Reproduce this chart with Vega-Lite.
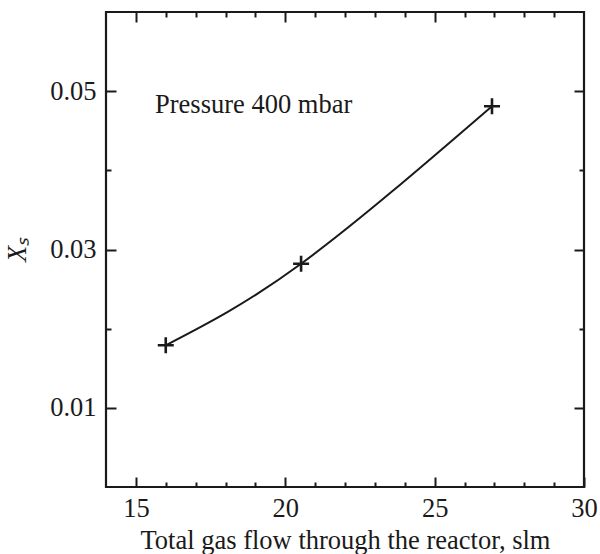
{
  "$schema": "https://vega.github.io/schema/vega-lite/v6.json",
  "autosize": "none",
  "width": 478,
  "height": 475,
  "padding": {"left": 106, "top": 12, "right": 16, "bottom": 67},
  "background": "white",
  "config": {
    "view": {"stroke": "#1a1a1a", "strokeWidth": 2.2},
    "font": "Liberation Serif",
    "axis": {
      "domain": false,
      "grid": false,
      "labelFont": "Liberation Serif",
      "titleFont": "Liberation Serif",
      "labelFontSize": 26.5,
      "titleFontSize": 26.5,
      "labelColor": "#1a1a1a",
      "titleColor": "#1a1a1a",
      "titleFontWeight": "normal",
      "tickColor": "#1a1a1a",
      "tickWidth": 2
    }
  },
  "datasets": {
    "pts": [
      {"flow": 16.0, "xs": 0.0179},
      {"flow": 20.53, "xs": 0.0282},
      {"flow": 26.92, "xs": 0.0481}
    ],
    "note": [
      {"flow": 15.64, "xs": 0.0483, "label": "Pressure 400 mbar"}
    ]
  },
  "layer": [
    {
      "data": {"name": "pts"},
      "mark": {"type": "line", "interpolate": "natural", "color": "#1a1a1a", "strokeWidth": 2},
      "encoding": {
        "x": {
          "field": "flow", "type": "quantitative",
          "scale": {"domain": [14, 30], "nice": false, "zero": false},
          "axis": {
            "orient": "bottom",
            "title": "Total gas flow through the reactor, slm",
            "values": [15, 16, 17, 18, 19, 20, 21, 22, 23, 24, 25, 26, 27, 28, 29, 30],
            "labelExpr": "datum.value % 5 === 0 ? datum.label : ''",
            "tickSize": {"condition": {"test": "datum.value % 5 === 0", "value": -10}, "value": -5},
            "labelPadding": 18,
            "titlePadding": 6,
            "labelFlush": false
          }
        },
        "y": {
          "field": "xs", "type": "quantitative",
          "scale": {"domain": [0, 0.06], "nice": false, "zero": false},
          "axis": {
            "orient": "left",
            "title": "Xₛ",
            "titleFontStyle": "italic",
            "values": [0.01, 0.02, 0.03, 0.04, 0.05],
            "format": ".2f",
            "labelExpr": "round(datum.value * 100) % 2 === 1 ? datum.label : ''",
            "tickSize": {"condition": {"test": "round(datum.value * 100) % 2 === 1", "value": -10}, "value": -5},
            "labelPadding": 20,
            "titlePadding": 18,
            "labelFlush": false
          }
        }
      }
    },
    {
      "data": {"name": "pts"},
      "mark": {"type": "point", "shape": "M-1,0L1,0M0,-1L0,1", "filled": false, "color": "#1a1a1a", "strokeWidth": 2.6, "size": 256, "opacity": 1},
      "encoding": {
        "x": {
          "field": "flow", "type": "quantitative",
          "axis": {
            "orient": "top",
            "title": null,
            "labels": false,
            "values": [15, 16, 17, 18, 19, 20, 21, 22, 23, 24, 25, 26, 27, 28, 29],
            "tickSize": {"condition": {"test": "datum.value % 5 === 0", "value": -10}, "value": -5}
          }
        },
        "y": {
          "field": "xs", "type": "quantitative",
          "axis": {
            "orient": "right",
            "title": null,
            "labels": false,
            "values": [0.01, 0.02, 0.03, 0.04, 0.05],
            "tickSize": {"condition": {"test": "round(datum.value * 100) % 2 === 1", "value": -10}, "value": -5}
          }
        }
      }
    },
    {
      "data": {"name": "note"},
      "mark": {"type": "text", "align": "left", "baseline": "middle", "fontSize": 26.5, "font": "Liberation Serif", "color": "#1a1a1a"},
      "encoding": {
        "x": {"field": "flow", "type": "quantitative", "axis": null},
        "y": {"field": "xs", "type": "quantitative", "axis": null},
        "text": {"field": "label"}
      }
    }
  ],
  "resolve": {"axis": {"x": "independent", "y": "independent"}}
}
